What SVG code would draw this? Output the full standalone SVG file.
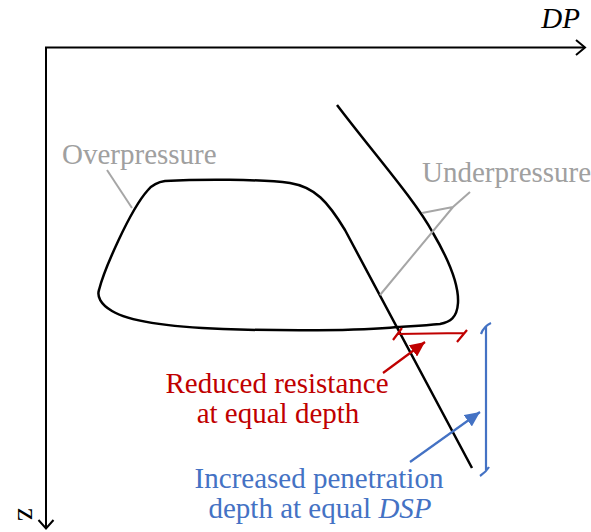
<svg xmlns="http://www.w3.org/2000/svg" width="591" height="532" viewBox="0 0 591 532">
<style>
.ax{fill:none;stroke:#000;stroke-width:2}
.curve{fill:none;stroke:#000;stroke-width:2.5;stroke-linejoin:round}
.lead{fill:none;stroke:#A6A6A6;stroke-width:2}
.red{fill:none;stroke:#C00000;stroke-width:2.2}
.blue{fill:none;stroke:#4472C4;stroke-width:2.2}
text{font-family:"Liberation Serif","Times New Roman",serif;font-size:29px}
.gt{fill:#A0A0A0}
.rt{fill:#C00000}
.bt{fill:#4472C4}
</style>
<defs>
<marker id="ahR" markerUnits="userSpaceOnUse" markerWidth="16" markerHeight="14" refX="15" refY="7" orient="auto"><path d="M0,0 L15,7 L0,14 Z" fill="#C00000"/></marker>
<marker id="ahB" markerUnits="userSpaceOnUse" markerWidth="16" markerHeight="14" refX="15" refY="7" orient="auto"><path d="M0,0 L15,7 L0,14 Z" fill="#4472C4"/></marker>
</defs>
<g id="axes">
<path class="ax" d="M46,528 L46,47.5 L585,47.5"/>
<path class="ax" d="M576,40 L585,47.5 L576,55"/>
<path class="ax" d="M38.5,520 L46,528.5 L53.5,520"/>
<text x="580" y="28" text-anchor="end" font-style="italic" font-size="26">DP</text>
<text x="0" y="0" font-size="18" transform="translate(18,508) rotate(90)">z</text>
</g>
<g id="profile">
<path class="curve" d="M337,105 C375,155 415,200 433,233 C450,262 459,285 458,303 C457,318 450,322 440,324 C420,326 410,326 397,327 C360,331 280,331 223,329 C170,327 130,322 112,311 C100,304 97,296 99,290 C104,270 130,210 148,190 C153,184 158,182 165,181 C200,179 260,179 290,183 C315,187 328,202 345,230 L472,468"/>
</g>
<g id="overpressure">
<text class="gt" x="62" y="164">Overpressure</text>
<path class="lead" d="M107,170 L132,208"/>
</g>
<g id="underpressure">
<text class="gt" x="422" y="182">Underpressure</text>
<path class="lead" d="M470,192 L453,207 L380,295 M453,207 L422,213"/>
</g>
<g id="reduced-resistance">
<path class="red" d="M397,334 L464,333 M393,340 L402,328 M457,342 L467,330"/>
<text class="rt" x="277" y="393" text-anchor="middle">Reduced resistance</text>
<text class="rt" x="278" y="423" text-anchor="middle">at equal depth</text>
</g>
<g id="increased-penetration">
<path class="blue" d="M486,326 L486,470 M481,334 Q484,326 491,323 M480,476 Q486,472 489,467"/>
<text class="bt" x="319" y="488" text-anchor="middle">Increased penetration</text>
<text class="bt" x="320" y="518" text-anchor="middle">depth at equal <tspan font-style="italic">DSP</tspan></text>
</g>
<g id="connectors">
<path class="red" d="M383,373 L425,342" marker-end="url(#ahR)"/>
<path class="blue" d="M410,462 L480,412" marker-end="url(#ahB)"/>
</g>
</svg>
